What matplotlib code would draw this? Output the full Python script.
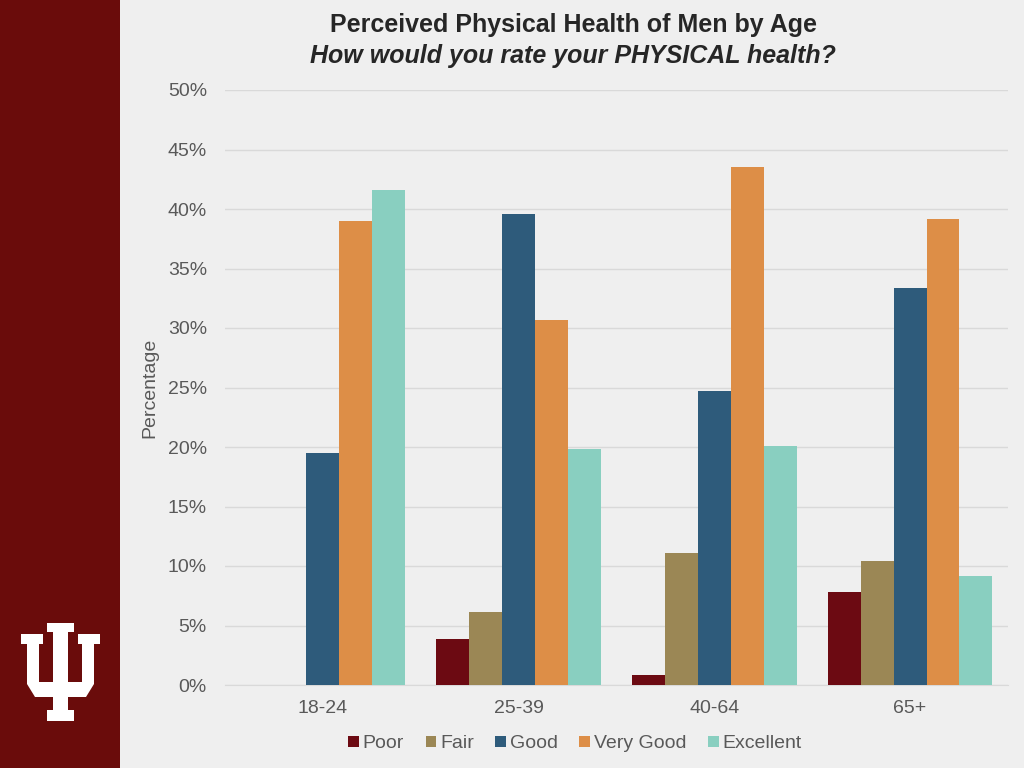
import numpy as np
import matplotlib
matplotlib.use("Agg")
import matplotlib.pyplot as plt
from matplotlib.patches import Rectangle, Polygon
import matplotlib.ticker as plticker

plt.rcParams['font.family'] = ['Liberation Sans', 'DejaVu Sans']

# data (percent)
ages = ["18-24", "25-39", "40-64", "65+"]
ratings = ["Poor", "Fair", "Good", "Very Good", "Excellent"]
poor = [0.0, 3.9, 0.8, 7.8]
fair = [0.0, 6.1, 11.1, 10.4]
good = [19.5, 39.6, 24.7, 33.4]
very_good = [39.0, 30.7, 43.5, 39.2]
excellent = [41.6, 19.8, 20.1, 9.2]
series = [poor, fair, good, very_good, excellent]
colors = ["#6c0a12", "#9b8755", "#2e5b7b", "#dd8e47", "#89cfc0"]

W, H = 1024, 768
bg = "#efefef"
fig = plt.figure(figsize=(10.24, 7.68), dpi=100, facecolor=bg)

# crimson band on the left
fig.add_artist(Rectangle((0, 0), 120 / W, 1, transform=fig.transFigure,
                         facecolor="#6a0c0b", edgecolor="none"))

# IU trident logo (pixel coords, left half then mirrored)
left = [(47, 623), (47, 632), (53, 632), (53, 682), (39, 682), (39, 644),
        (43, 644), (43, 634), (21, 634), (21, 644), (27, 644), (27, 684),
        (35, 697), (53, 697), (53, 710), (47, 710), (47, 721)]
right = [(121 - x, y) for x, y in reversed(left)]
pts = [(x / W, 1 - y / H) for x, y in left + right]
fig.add_artist(Polygon(pts, closed=True, transform=fig.transFigure,
                       facecolor="white", edgecolor="none"))

ax = fig.add_axes([225 / W, 1 - 685 / H, (1008 - 225) / W, (685 - 90) / H])
ax.set_facecolor(bg)

x = np.arange(len(ages))
bw = 0.168
for i, (vals, name, c) in enumerate(zip(series, ratings, colors)):
    ax.bar(x + (i - 2) * bw, vals, width=bw, color=c, label=name, zorder=3)

ax.set_xlim(-0.5, len(ages) - 0.5)
ax.set_ylim(0, 50)
ax.yaxis.set_major_locator(plticker.MultipleLocator(5))
ax.yaxis.set_major_formatter(plticker.FuncFormatter(lambda v, p: "%d%%" % v))
ax.set_xticks(x)
ax.set_xticklabels(ages)
ax.grid(axis="y", color="#d9d9d9", linewidth=1, zorder=0)
for s in ["top", "right", "left"]:
    ax.spines[s].set_visible(False)
ax.spines["bottom"].set_color("#d9d9d9")
ax.tick_params(axis="both", length=0, labelsize=14, labelcolor="#595959")
ax.tick_params(axis="y", pad=13)
ax.tick_params(axis="x", pad=11)

fig.text(150 / W, 1 - 388 / H, "Percentage", rotation=90, ha="center",
         va="center", fontsize=14, color="#595959")

fig.text(573 / W, 1 - 25 / H, "Perceived Physical Health of Men by Age",
         ha="center", va="center", fontsize=18, fontweight="bold",
         color="#262626")
fig.text(573 / W, 1 - 56 / H, "How would you rate your PHYSICAL health?",
         ha="center", va="center", fontsize=18, fontweight="bold",
         fontstyle="italic", color="#262626")

ax.legend(loc="center", bbox_to_anchor=(575 / W, 1 - 744 / H),
          bbox_transform=fig.transFigure, ncol=5, frameon=False,
          fontsize=14, labelcolor="#595959", handlelength=0.55,
          handleheight=0.55, handletextpad=0.2, columnspacing=1.1)

fig.savefig("out.png", dpi=100, facecolor=bg)
